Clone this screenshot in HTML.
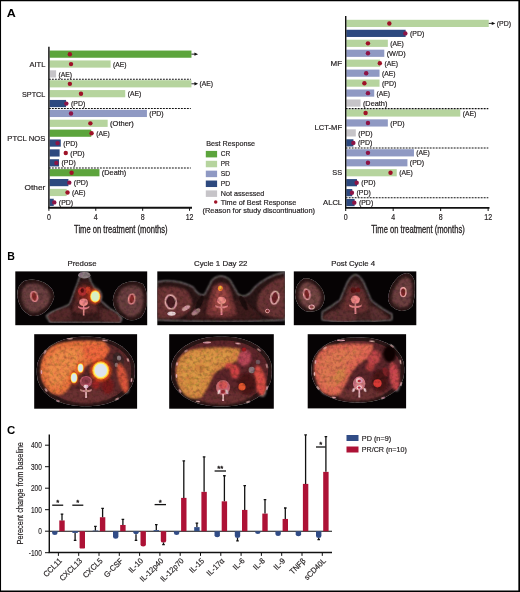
<!DOCTYPE html>
<html lang="en"><head><meta charset="utf-8"><title>Figure</title>
<style>
html,body{margin:0;padding:0;background:#fff;}
body{width:520px;height:592px;overflow:hidden;}
svg{display:block;font-family:"Liberation Sans",sans-serif;}
</style></head><body>
<svg width="520" height="592" viewBox="0 0 520 592">
<defs>
<filter id="b1" x="-30%" y="-30%" width="160%" height="160%"><feGaussianBlur stdDeviation="0.7"/></filter>
<filter id="b2" x="-30%" y="-30%" width="160%" height="160%"><feGaussianBlur stdDeviation="1.2"/></filter>
<filter id="b3" x="-30%" y="-30%" width="160%" height="160%"><feGaussianBlur stdDeviation="2"/></filter>
<filter id="b05" x="-30%" y="-30%" width="160%" height="160%"><feGaussianBlur stdDeviation="0.45"/></filter>
<filter id="tex" x="0" y="0" width="100%" height="100%" color-interpolation-filters="sRGB">
<feTurbulence type="fractalNoise" baseFrequency="0.3" numOctaves="2" seed="7" result="n"/>
<feColorMatrix in="n" type="matrix" values="0.6 0.1 0 0 0.6  0.45 0.35 0 0 0.52  0.6 0 0.1 0 0.58  0 0 0 0 1" result="g"/>
<feBlend in="SourceGraphic" in2="g" mode="multiply" result="m"/>
<feComposite in="m" in2="SourceGraphic" operator="in"/>
</filter>
</defs>
<rect x="0" y="0" width="520" height="592" fill="#fff"/>

<text transform="translate(6.80,16.50) scale(1.14,1)" font-size="11" font-weight="bold" fill="#000">A</text>
<rect x="49.65" y="50.55" width="141.81" height="7.2" fill="#5ca43c"/>
<path d="M191.46 54.15H195.46" stroke="#111" stroke-width="0.9" fill="none"/>
<path d="M194.46 52.45L198.06 54.15L194.46 55.85Z" fill="#111"/>
<circle cx="69.86" cy="54.20" r="2.2" fill="#9e1227"/>
<rect x="49.65" y="60.43" width="60.94" height="7.2" fill="#b6d49e"/>
<circle cx="71.03" cy="64.08" r="2.2" fill="#9e1227"/>
<text transform="translate(112.99,66.63)" font-size="7.8" textLength="13.5" lengthAdjust="spacingAndGlyphs" stroke="#231f20" stroke-width="0.2" fill="#231f20">(AE)</text>
<rect x="49.65" y="70.31" width="6.45" height="7.2" fill="#c6c4c8"/>
<text transform="translate(58.50,76.51)" font-size="7.8" textLength="13.5" lengthAdjust="spacingAndGlyphs" stroke="#231f20" stroke-width="0.2" fill="#231f20">(AE)</text>
<rect x="49.65" y="80.19" width="141.81" height="7.2" fill="#b6d49e"/>
<path d="M191.46 83.79H195.46" stroke="#111" stroke-width="0.9" fill="none"/>
<path d="M194.46 82.09L198.06 83.79L194.46 85.49Z" fill="#111"/>
<circle cx="69.86" cy="83.84" r="2.2" fill="#9e1227"/>
<text transform="translate(199.46,86.39)" font-size="7.8" textLength="13.5" lengthAdjust="spacingAndGlyphs" stroke="#231f20" stroke-width="0.2" fill="#231f20">(AE)</text>
<rect x="49.65" y="90.07" width="75.59" height="7.2" fill="#b6d49e"/>
<circle cx="80.99" cy="93.72" r="2.2" fill="#9e1227"/>
<text transform="translate(127.64,96.27)" font-size="7.8" textLength="13.5" lengthAdjust="spacingAndGlyphs" stroke="#231f20" stroke-width="0.2" fill="#231f20">(AE)</text>
<rect x="49.65" y="99.95" width="16.41" height="7.2" fill="#2d497f"/>
<circle cx="66.34" cy="103.60" r="2.2" fill="#8c1446"/>
<text transform="translate(70.94,106.15)" font-size="7.8" textLength="14.3" lengthAdjust="spacingAndGlyphs" stroke="#231f20" stroke-width="0.2" fill="#231f20">(PD)</text>
<rect x="49.65" y="109.83" width="97.28" height="7.2" fill="#8f99c3"/>
<circle cx="71.03" cy="113.48" r="2.2" fill="#8c1446"/>
<text transform="translate(149.33,116.03)" font-size="7.8" textLength="14.3" lengthAdjust="spacingAndGlyphs" stroke="#231f20" stroke-width="0.2" fill="#231f20">(PD)</text>
<rect x="49.65" y="119.71" width="58.01" height="7.2" fill="#b6d49e"/>
<circle cx="90.37" cy="123.36" r="2.2" fill="#9e1227"/>
<text transform="translate(110.06,125.91)" font-size="7.8" textLength="23.8" lengthAdjust="spacingAndGlyphs" stroke="#231f20" stroke-width="0.2" fill="#231f20">(Other)</text>
<rect x="49.65" y="129.59" width="41.61" height="7.2" fill="#5ca43c"/>
<circle cx="91.54" cy="133.24" r="2.2" fill="#9e1227"/>
<text transform="translate(96.14,135.79)" font-size="7.8" textLength="13.5" lengthAdjust="spacingAndGlyphs" stroke="#231f20" stroke-width="0.2" fill="#231f20">(AE)</text>
<rect x="49.65" y="139.47" width="11.13" height="7.2" fill="#2d497f"/>
<circle cx="57.55" cy="143.12" r="2.2" fill="#8c1446"/>
<text transform="translate(63.18,145.67)" font-size="7.8" textLength="14.3" lengthAdjust="spacingAndGlyphs" stroke="#231f20" stroke-width="0.2" fill="#231f20">(PD)</text>
<rect x="49.65" y="149.35" width="9.96" height="7.2" fill="#2d497f"/>
<circle cx="65.76" cy="153.00" r="2.2" fill="#9e1227"/>
<text transform="translate(70.36,155.55)" font-size="7.8" textLength="14.3" lengthAdjust="spacingAndGlyphs" stroke="#231f20" stroke-width="0.2" fill="#231f20">(PD)</text>
<rect x="49.65" y="159.23" width="9.38" height="7.2" fill="#2d497f"/>
<circle cx="56.38" cy="162.88" r="2.2" fill="#8c1446"/>
<text transform="translate(61.43,165.43)" font-size="7.8" textLength="14.3" lengthAdjust="spacingAndGlyphs" stroke="#231f20" stroke-width="0.2" fill="#231f20">(PD)</text>
<rect x="49.65" y="169.11" width="49.81" height="7.2" fill="#5ca43c"/>
<circle cx="71.62" cy="172.76" r="2.2" fill="#9e1227"/>
<text transform="translate(101.86,175.31) scale(0.94,1)" font-size="7.8" stroke="#231f20" stroke-width="0.2" fill="#231f20">(Death)</text>
<rect x="49.65" y="178.99" width="18.75" height="7.2" fill="#2d497f"/>
<circle cx="69.27" cy="182.64" r="2.2" fill="#8c1446"/>
<text transform="translate(73.87,185.19)" font-size="7.8" textLength="14.3" lengthAdjust="spacingAndGlyphs" stroke="#231f20" stroke-width="0.2" fill="#231f20">(PD)</text>
<rect x="49.65" y="188.87" width="16.99" height="7.2" fill="#b6d49e"/>
<circle cx="67.52" cy="192.52" r="2.2" fill="#9e1227"/>
<text transform="translate(72.12,195.07)" font-size="7.8" textLength="13.5" lengthAdjust="spacingAndGlyphs" stroke="#231f20" stroke-width="0.2" fill="#231f20">(AE)</text>
<rect x="49.65" y="198.75" width="4.10" height="7.2" fill="#2d497f"/>
<circle cx="54.27" cy="202.40" r="2.2" fill="#8c1446"/>
<text transform="translate(58.87,204.95)" font-size="7.8" textLength="14.3" lengthAdjust="spacingAndGlyphs" stroke="#231f20" stroke-width="0.2" fill="#231f20">(PD)</text>
<path d="M48.90 79.30H190.80" stroke="#111" stroke-width="1.05" stroke-dasharray="1.9 1.1" fill="none"/>
<path d="M48.90 108.40H190.80" stroke="#111" stroke-width="1.05" stroke-dasharray="1.9 1.1" fill="none"/>
<path d="M48.90 168.00H190.80" stroke="#111" stroke-width="1.05" stroke-dasharray="1.9 1.1" fill="none"/>
<path d="M48.90 46.75V207.70" stroke="#111" stroke-width="1.45" fill="none"/>
<path d="M48.20 207.70H192.00" stroke="#111" stroke-width="1.9" fill="none"/>
<path d="M48.90 207.70V210.80" stroke="#111" stroke-width="1" fill="none"/>
<text transform="translate(48.90,220.10) scale(0.8,1)" font-size="8.8" text-anchor="middle" stroke="#231f20" stroke-width="0.2" fill="#231f20">0</text>
<path d="M95.78 207.70V210.80" stroke="#111" stroke-width="1" fill="none"/>
<text transform="translate(95.78,220.10) scale(0.8,1)" font-size="8.8" text-anchor="middle" stroke="#231f20" stroke-width="0.2" fill="#231f20">4</text>
<path d="M142.66 207.70V210.80" stroke="#111" stroke-width="1" fill="none"/>
<text transform="translate(142.66,220.10) scale(0.8,1)" font-size="8.8" text-anchor="middle" stroke="#231f20" stroke-width="0.2" fill="#231f20">8</text>
<path d="M189.54 207.70V210.80" stroke="#111" stroke-width="1" fill="none"/>
<text transform="translate(189.54,220.10) scale(0.8,1)" font-size="8.8" text-anchor="middle" stroke="#231f20" stroke-width="0.2" fill="#231f20">12</text>
<text transform="translate(45.30,67.30)" font-size="7.8" text-anchor="end" textLength="15.8" lengthAdjust="spacingAndGlyphs" stroke="#231f20" stroke-width="0.2" fill="#231f20">AITL</text>
<text transform="translate(45.30,96.80)" font-size="7.8" text-anchor="end" textLength="23.3" lengthAdjust="spacingAndGlyphs" stroke="#231f20" stroke-width="0.2" fill="#231f20">SPTCL</text>
<text transform="translate(45.30,141.00)" font-size="7.8" text-anchor="end" textLength="38.0" lengthAdjust="spacingAndGlyphs" stroke="#231f20" stroke-width="0.2" fill="#231f20">PTCL NOS</text>
<text transform="translate(45.30,190.10)" font-size="7.8" text-anchor="end" textLength="20.7" lengthAdjust="spacingAndGlyphs" stroke="#231f20" stroke-width="0.2" fill="#231f20">Other</text>
<text transform="translate(120.80,232.80)" font-size="10.2" text-anchor="middle" textLength="93.5" lengthAdjust="spacingAndGlyphs" stroke="#231f20" stroke-width="0.3" fill="#231f20">Time on treatment (months)</text>
<text transform="translate(206.20,145.80)" font-size="7.8" textLength="48.8" lengthAdjust="spacingAndGlyphs" stroke="#231f20" stroke-width="0.2" fill="#231f20">Best Response</text>
<rect x="205.8" y="150.90" width="11.3" height="6.5" fill="#5ca43c"/>
<text transform="translate(220.80,156.30)" font-size="7.8" textLength="9.5" lengthAdjust="spacingAndGlyphs" stroke="#231f20" stroke-width="0.2" fill="#231f20">CR</text>
<rect x="205.8" y="160.78" width="11.3" height="6.5" fill="#b6d49e"/>
<text transform="translate(220.80,166.18)" font-size="7.8" textLength="9.0" lengthAdjust="spacingAndGlyphs" stroke="#231f20" stroke-width="0.2" fill="#231f20">PR</text>
<rect x="205.8" y="170.65" width="11.3" height="6.5" fill="#8f99c3"/>
<text transform="translate(220.80,176.05)" font-size="7.8" textLength="9.4" lengthAdjust="spacingAndGlyphs" stroke="#231f20" stroke-width="0.2" fill="#231f20">SD</text>
<rect x="205.8" y="180.53" width="11.3" height="6.5" fill="#2d497f"/>
<text transform="translate(220.80,185.93)" font-size="7.8" textLength="9.4" lengthAdjust="spacingAndGlyphs" stroke="#231f20" stroke-width="0.2" fill="#231f20">PD</text>
<rect x="205.8" y="190.40" width="11.3" height="6.5" fill="#c6c4c8"/>
<text transform="translate(220.80,195.80)" font-size="7.8" textLength="43.5" lengthAdjust="spacingAndGlyphs" stroke="#231f20" stroke-width="0.2" fill="#231f20">Not assessed</text>
<circle cx="215.7" cy="202" r="1.75" fill="#9e1227"/>
<text transform="translate(220.80,204.60)" font-size="7.8" textLength="75.4" lengthAdjust="spacingAndGlyphs" stroke="#231f20" stroke-width="0.2" fill="#231f20">Time of Best Response</text>
<text transform="translate(202.50,212.60)" font-size="7.8" textLength="112.5" lengthAdjust="spacingAndGlyphs" stroke="#231f20" stroke-width="0.2" fill="#231f20">(Reason for study discontinuation)</text>
<rect x="346.30" y="19.80" width="142.44" height="7.2" fill="#b6d49e"/>
<path d="M488.74 23.40H492.74" stroke="#111" stroke-width="0.9" fill="none"/>
<path d="M491.74 21.70L495.34 23.40L491.74 25.10Z" fill="#111"/>
<circle cx="389.33" cy="23.45" r="2.2" fill="#9e1227"/>
<text transform="translate(496.74,26.00)" font-size="7.8" textLength="14.3" lengthAdjust="spacingAndGlyphs" stroke="#231f20" stroke-width="0.2" fill="#231f20">(PD)</text>
<rect x="346.30" y="29.76" width="59.35" height="7.2" fill="#2d497f"/>
<circle cx="405.35" cy="33.41" r="2.2" fill="#8c1446"/>
<text transform="translate(409.95,35.96)" font-size="7.8" textLength="14.3" lengthAdjust="spacingAndGlyphs" stroke="#231f20" stroke-width="0.2" fill="#231f20">(PD)</text>
<rect x="346.30" y="39.71" width="41.54" height="7.2" fill="#b6d49e"/>
<circle cx="367.96" cy="43.36" r="2.2" fill="#9e1227"/>
<text transform="translate(390.25,45.91)" font-size="7.8" textLength="13.5" lengthAdjust="spacingAndGlyphs" stroke="#231f20" stroke-width="0.2" fill="#231f20">(AE)</text>
<rect x="346.30" y="49.67" width="37.98" height="7.2" fill="#8f99c3"/>
<circle cx="367.96" cy="53.32" r="2.2" fill="#8c1446"/>
<text transform="translate(386.68,55.87) scale(0.94,1)" font-size="7.8" stroke="#231f20" stroke-width="0.2" fill="#231f20">(W/D)</text>
<rect x="346.30" y="59.62" width="33.83" height="7.2" fill="#b6d49e"/>
<circle cx="379.83" cy="63.27" r="2.2" fill="#9e1227"/>
<text transform="translate(384.43,65.82)" font-size="7.8" textLength="13.5" lengthAdjust="spacingAndGlyphs" stroke="#231f20" stroke-width="0.2" fill="#231f20">(AE)</text>
<rect x="346.30" y="69.58" width="33.24" height="7.2" fill="#8f99c3"/>
<circle cx="366.18" cy="73.23" r="2.2" fill="#8c1446"/>
<text transform="translate(381.94,75.78)" font-size="7.8" textLength="13.5" lengthAdjust="spacingAndGlyphs" stroke="#231f20" stroke-width="0.2" fill="#231f20">(AE)</text>
<rect x="346.30" y="79.53" width="33.24" height="7.2" fill="#b6d49e"/>
<circle cx="364.40" cy="83.18" r="2.2" fill="#9e1227"/>
<text transform="translate(381.94,85.73)" font-size="7.8" textLength="14.3" lengthAdjust="spacingAndGlyphs" stroke="#231f20" stroke-width="0.2" fill="#231f20">(PD)</text>
<rect x="346.30" y="89.48" width="27.89" height="7.2" fill="#8f99c3"/>
<circle cx="367.96" cy="93.14" r="2.2" fill="#8c1446"/>
<text transform="translate(376.59,95.69)" font-size="7.8" textLength="13.5" lengthAdjust="spacingAndGlyphs" stroke="#231f20" stroke-width="0.2" fill="#231f20">(AE)</text>
<rect x="346.30" y="99.44" width="14.24" height="7.2" fill="#c6c4c8"/>
<text transform="translate(362.94,105.64) scale(0.94,1)" font-size="7.8" stroke="#231f20" stroke-width="0.2" fill="#231f20">(Death)</text>
<rect x="346.30" y="109.39" width="113.95" height="7.2" fill="#b6d49e"/>
<circle cx="365.59" cy="113.05" r="2.2" fill="#9e1227"/>
<text transform="translate(462.65,115.59)" font-size="7.8" textLength="13.5" lengthAdjust="spacingAndGlyphs" stroke="#231f20" stroke-width="0.2" fill="#231f20">(AE)</text>
<rect x="346.30" y="119.35" width="41.54" height="7.2" fill="#8f99c3"/>
<circle cx="367.96" cy="123.00" r="2.2" fill="#8c1446"/>
<text transform="translate(390.25,125.55)" font-size="7.8" textLength="14.3" lengthAdjust="spacingAndGlyphs" stroke="#231f20" stroke-width="0.2" fill="#231f20">(PD)</text>
<rect x="346.30" y="129.31" width="9.50" height="7.2" fill="#c6c4c8"/>
<text transform="translate(358.20,135.50)" font-size="7.8" textLength="14.3" lengthAdjust="spacingAndGlyphs" stroke="#231f20" stroke-width="0.2" fill="#231f20">(PD)</text>
<rect x="346.30" y="139.26" width="7.12" height="7.2" fill="#2d497f"/>
<circle cx="353.36" cy="142.91" r="2.2" fill="#8c1446"/>
<text transform="translate(357.96,145.46)" font-size="7.8" textLength="14.3" lengthAdjust="spacingAndGlyphs" stroke="#231f20" stroke-width="0.2" fill="#231f20">(PD)</text>
<rect x="346.30" y="149.22" width="67.66" height="7.2" fill="#8f99c3"/>
<circle cx="367.96" cy="152.87" r="2.2" fill="#8c1446"/>
<text transform="translate(416.36,155.41)" font-size="7.8" textLength="13.5" lengthAdjust="spacingAndGlyphs" stroke="#231f20" stroke-width="0.2" fill="#231f20">(AE)</text>
<rect x="346.30" y="159.17" width="61.13" height="7.2" fill="#8f99c3"/>
<circle cx="367.96" cy="162.82" r="2.2" fill="#8c1446"/>
<text transform="translate(409.83,165.37)" font-size="7.8" textLength="14.3" lengthAdjust="spacingAndGlyphs" stroke="#231f20" stroke-width="0.2" fill="#231f20">(PD)</text>
<rect x="346.30" y="169.12" width="50.45" height="7.2" fill="#b6d49e"/>
<circle cx="390.51" cy="172.78" r="2.2" fill="#9e1227"/>
<text transform="translate(399.15,175.32)" font-size="7.8" textLength="13.5" lengthAdjust="spacingAndGlyphs" stroke="#231f20" stroke-width="0.2" fill="#231f20">(AE)</text>
<rect x="346.30" y="179.08" width="10.68" height="7.2" fill="#2d497f"/>
<circle cx="356.68" cy="182.73" r="2.2" fill="#8c1446"/>
<text transform="translate(361.28,185.28)" font-size="7.8" textLength="14.3" lengthAdjust="spacingAndGlyphs" stroke="#231f20" stroke-width="0.2" fill="#231f20">(PD)</text>
<rect x="346.30" y="189.04" width="5.93" height="7.2" fill="#2d497f"/>
<circle cx="351.94" cy="192.69" r="2.2" fill="#8c1446"/>
<text transform="translate(356.53,195.24)" font-size="7.8" textLength="14.3" lengthAdjust="spacingAndGlyphs" stroke="#231f20" stroke-width="0.2" fill="#231f20">(PD)</text>
<rect x="346.30" y="198.99" width="8.31" height="7.2" fill="#2d497f"/>
<circle cx="354.31" cy="202.64" r="2.2" fill="#8c1446"/>
<text transform="translate(358.91,205.19)" font-size="7.8" textLength="14.3" lengthAdjust="spacingAndGlyphs" stroke="#231f20" stroke-width="0.2" fill="#231f20">(PD)</text>
<path d="M345.70 108.60H488.30" stroke="#111" stroke-width="1.05" stroke-dasharray="1.9 1.1" fill="none"/>
<path d="M345.70 148.00H488.30" stroke="#111" stroke-width="1.05" stroke-dasharray="1.9 1.1" fill="none"/>
<path d="M345.70 197.80H488.30" stroke="#111" stroke-width="1.05" stroke-dasharray="1.9 1.1" fill="none"/>
<path d="M345.70 16.00V207.90" stroke="#111" stroke-width="1.45" fill="none"/>
<path d="M345.00 207.90H489.50" stroke="#111" stroke-width="1.9" fill="none"/>
<path d="M345.70 207.90V211.00" stroke="#111" stroke-width="1" fill="none"/>
<text transform="translate(345.70,220.30) scale(0.8,1)" font-size="8.8" text-anchor="middle" stroke="#231f20" stroke-width="0.2" fill="#231f20">0</text>
<path d="M393.18 207.90V211.00" stroke="#111" stroke-width="1" fill="none"/>
<text transform="translate(393.18,220.30) scale(0.8,1)" font-size="8.8" text-anchor="middle" stroke="#231f20" stroke-width="0.2" fill="#231f20">4</text>
<path d="M440.66 207.90V211.00" stroke="#111" stroke-width="1" fill="none"/>
<text transform="translate(440.66,220.30) scale(0.8,1)" font-size="8.8" text-anchor="middle" stroke="#231f20" stroke-width="0.2" fill="#231f20">8</text>
<path d="M488.14 207.90V211.00" stroke="#111" stroke-width="1" fill="none"/>
<text transform="translate(488.14,220.30) scale(0.8,1)" font-size="8.8" text-anchor="middle" stroke="#231f20" stroke-width="0.2" fill="#231f20">12</text>
<text transform="translate(342.10,66.00)" font-size="7.8" text-anchor="end" textLength="11.5" lengthAdjust="spacingAndGlyphs" stroke="#231f20" stroke-width="0.2" fill="#231f20">MF</text>
<text transform="translate(342.10,130.40)" font-size="7.8" text-anchor="end" textLength="27.5" lengthAdjust="spacingAndGlyphs" stroke="#231f20" stroke-width="0.2" fill="#231f20">LCT-MF</text>
<text transform="translate(342.10,175.40) scale(0.94,1)" font-size="7.8" text-anchor="end" stroke="#231f20" stroke-width="0.2" fill="#231f20">SS</text>
<text transform="translate(342.10,205.00)" font-size="7.8" text-anchor="end" textLength="19" lengthAdjust="spacingAndGlyphs" stroke="#231f20" stroke-width="0.2" fill="#231f20">ALCL</text>
<text transform="translate(418.00,233.00)" font-size="10.2" text-anchor="middle" textLength="93.5" lengthAdjust="spacingAndGlyphs" stroke="#231f20" stroke-width="0.3" fill="#231f20">Time on treatment (months)</text>
<text transform="translate(7.20,260.00) scale(0.98,1)" font-size="10.8" font-weight="bold" fill="#000">B</text>
<text transform="translate(82.00,265.80)" font-size="7.8" text-anchor="middle" textLength="29" lengthAdjust="spacingAndGlyphs" stroke="#231f20" stroke-width="0.2" fill="#231f20">Predose</text>
<text transform="translate(220.70,265.80)" font-size="7.8" text-anchor="middle" textLength="53.5" lengthAdjust="spacingAndGlyphs" stroke="#231f20" stroke-width="0.2" fill="#231f20">Cycle 1 Day 22</text>
<text transform="translate(353.10,265.80)" font-size="7.8" text-anchor="middle" textLength="43.75" lengthAdjust="spacingAndGlyphs" stroke="#231f20" stroke-width="0.2" fill="#231f20">Post Cycle 4</text>
<clipPath id="pc1"><rect x="15.3" y="271.4" width="131.9" height="53.8"/></clipPath>
<rect x="15.3" y="271.4" width="131.9" height="53.8" fill="#060304"/>
<g clip-path="url(#pc1)" filter="url(#tex)">
<path d="M50 321.5 L50 314 Q60 309 70 304 L78 282 Q80 273 84.5 272.5 Q89 273 91 282 L100 300 Q108 308 118 314 L118 321.5 Q84 323.5 50 321.5Z" fill="#2c1717" filter="url(#b2)"/>
<path d="M52 320.5 Q56 313 68 310 L76 290 Q80 279 84.5 279 Q89 279 93 290 L102 308 Q112 313 116 320.5 Q84 322 52 320.5Z" fill="#3a1e1e" filter="url(#b2)"/>
<path d="M72 311 Q77 298 79 288 Q84 282 90 288 Q93 298 98 311 Q85 316 72 311Z" fill="#5e2a2a" filter="url(#b2)"/>
<ellipse cx="84.3" cy="275.2" rx="6" ry="3.3" fill="#8f8286" filter="url(#b1)"/>
<path d="M17.3 296 Q16.8 285 24 281 Q33 277.3 44 282.5 Q54.5 288 54.2 297 Q52 306 45 312 Q38 317.5 30 315.5 Q19 310 17.3 296Z" fill="#2a1516" filter="url(#b1)"/>
<path d="M21.5 296 Q21 287.5 27 284.5 Q34 282 42.5 286 Q50.5 291 50.3 297.5 Q48 305 42 309.5 Q36.5 313.5 30.5 312 Q22.5 307.5 21.5 296Z" fill="#694140" filter="url(#b2)"/>
<ellipse cx="44" cy="303" rx="5" ry="3.4" fill="#7a4a48" filter="url(#b2)" transform="rotate(-30 44 303)" opacity="0.7"/>
<ellipse cx="34.2" cy="296.5" rx="3.3" ry="4.9" fill="#8a2a2c" stroke="#ee9494" stroke-width="1.5" filter="url(#b05)" transform="rotate(-12 34.2 296.5)"/>
<path d="M46 316 Q58 307 70 308 L72 320 L50 322Z" fill="#552c2c" filter="url(#b2)"/>
<path d="M112.8 300 Q114 289 122 284 Q133 278.5 143 284 Q147.5 290 146.8 302 Q146 312 141 317.5 Q133 322 126 319 Q113 312 112.8 300Z" fill="#2a1516" filter="url(#b1)"/>
<path d="M117 300 Q118 291 124.5 287.5 Q133 283.5 140 287.5 Q144 293 143.3 302 Q142.5 310 138.5 314.5 Q132.5 318 127.5 316 Q117.5 310 117 300Z" fill="#694140" filter="url(#b2)"/>
<ellipse cx="131.7" cy="299" rx="3.1" ry="5.0" fill="#8a2a2c" stroke="#ee9494" stroke-width="1.5" filter="url(#b05)" transform="rotate(8 131.7 299)"/>
<path d="M100 309 Q112 308 122 318 L120 323 L100 321Z" fill="#552c2c" filter="url(#b2)"/>
<ellipse cx="87" cy="293.5" rx="11" ry="8" fill="#9a2818" filter="url(#b3)" opacity="0.55"/>
<ellipse cx="82.3" cy="291.5" rx="4.2" ry="4.2" fill="#b83030" filter="url(#b1)"/>
<ellipse cx="82.3" cy="290.5" rx="1.6" ry="2.2" fill="#5a1010" filter="url(#b05)"/>
<ellipse cx="88" cy="290" rx="2.5" ry="3.5" fill="#c83c28" filter="url(#b1)"/>
<ellipse cx="83.6" cy="302.3" rx="4.4" ry="3.8" fill="#f08a88" filter="url(#b1)"/>
<path d="M83 305 L84.4 305 L84.6 315.5 L82.8 315.5Z" fill="#e89090" filter="url(#b05)"/>
<path d="M78 306 Q83.6 309 89.5 306 L89 308 Q83.6 311 78.5 308Z" fill="#e08484" filter="url(#b05)"/>
<ellipse cx="95.2" cy="296.4" rx="6.449999999999999" ry="7.800000000000001" fill="#e04a1c" filter="url(#b2)" opacity="0.85"/>
</g>
<g clip-path="url(#pc1)">
<ellipse cx="95.2" cy="296.4" rx="5.159999999999999" ry="6.24" fill="#ffa820" filter="url(#b1)"/>
<ellipse cx="95.2" cy="296.4" rx="4.4719999999999995" ry="5.408" fill="#fff070" filter="url(#b05)"/>
<ellipse cx="95.2" cy="296.4" rx="3.698" ry="4.472" fill="#d6efc4" filter="url(#b05)"/>
</g>
<clipPath id="pc2"><rect x="157.3" y="271.4" width="127.6" height="53.8"/></clipPath>
<rect x="157.3" y="271.4" width="127.6" height="53.8" fill="#060304"/>
<g clip-path="url(#pc2)" filter="url(#tex)">
<path d="M157 320 L157 282 Q175 278 193 287 Q200 298 205 294 L212 280 Q221 272 230 280 L238 294 Q246 300 254 288 Q266 276 285 272 L285 320 Q221 323 157 320Z" fill="#2c1717" filter="url(#b2)"/>
<path d="M186 318 Q196 300 206 300 L238 300 Q248 302 262 318 Q222 322 186 318Z" fill="#3c1e1e" filter="url(#b2)"/>
<path d="M157 288 Q172 284 186 290 Q194 298 192 308 Q186 318 170 319 L157 318Z" fill="#6c3636" filter="url(#b2)"/>
<path d="M285 277 Q272 279 262 290 Q254 300 258 310 Q266 319 285 318Z" fill="#683434" filter="url(#b2)"/>
<path d="M206 315 Q209 296 213 286 Q221 279 229 286 Q233 296 237 315 Q221 320 206 315Z" fill="#743434" filter="url(#b2)"/>
<path d="M212 310 Q214 296 217 290 Q221 286 225 290 Q228 296 231 310 Q221 314 212 310Z" fill="#a04a44" filter="url(#b2)" opacity="0.8"/>
<ellipse cx="199.5" cy="303" rx="2.6" ry="8" fill="#1e0c0e" filter="url(#b1)" transform="rotate(25 199.5 303)"/>
<ellipse cx="243.5" cy="303" rx="2.6" ry="8" fill="#1e0c0e" filter="url(#b1)" transform="rotate(-25 243.5 303)"/>
<ellipse cx="196" cy="312" rx="5" ry="2.4" fill="#d8a8b0" filter="url(#b1)" transform="rotate(-35 196 312)" opacity="0.7"/>
<ellipse cx="170.8" cy="302" rx="5.4" ry="7.0" fill="#4a1c20" stroke="#ecb4b4" stroke-width="1.6" filter="url(#b05)" transform="rotate(-10 170.8 302)"/>
<ellipse cx="171.5" cy="313.6" rx="4.2" ry="2.2" fill="#e6d6d6" filter="url(#b05)"/>
<ellipse cx="186" cy="308" rx="4.5" ry="2.0" fill="#d8a8a8" filter="url(#b1)" transform="rotate(-30 186 308)"/>
<ellipse cx="274.8" cy="297.6" rx="4.0" ry="6.4" fill="#6a2226" stroke="#f0b8b8" stroke-width="1.6" filter="url(#b05)" transform="rotate(10 274.8 297.6)"/>
<ellipse cx="267.4" cy="311" rx="2" ry="1.7" fill="#7a2a2a" stroke="#e8a8a8" stroke-width="1.0" filter="url(#b05)"/>
<ellipse cx="220.3" cy="288.2" rx="2.4" ry="2.8" fill="#ff8a30" filter="url(#b1)"/>
<ellipse cx="220.3" cy="287.6" rx="1.0" ry="1.5" fill="#ffd050" filter="url(#b05)"/>
<ellipse cx="221.5" cy="300.5" rx="4.4" ry="3.8" fill="#f09088" filter="url(#b1)"/>
<path d="M220.7 304 L222.3 304 L222.5 315 L220.5 315Z" fill="#e89090" filter="url(#b05)"/>
<path d="M215 305 Q221.5 308 228 305 L227.5 307 Q221.5 310 215.5 307Z" fill="#e08484" filter="url(#b05)"/>
</g>
<clipPath id="pc3"><rect x="293.8" y="271.4" width="122.5" height="53.8"/></clipPath>
<rect x="293.8" y="271.4" width="122.5" height="53.8" fill="#060304"/>
<g clip-path="url(#pc3)" filter="url(#tex)">
<path d="M322 320 L322 312 Q332 306 340 300 L347 283 Q351 275 355.5 274.5 Q360 275 364 283 L371 300 Q380 308 392 314 L392 320 Q357 322 322 320Z" fill="#2c1717" filter="url(#b2)"/>
<path d="M324 319 Q328 311 338 308 L346 291 Q351 281 355.5 281 Q360 281 365 291 L372 306 Q384 312 390 319 Q357 321 324 319Z" fill="#4a2626" filter="url(#b2)"/>
<path d="M341 310 Q346 298 349 289 Q355.4 283 362 289 Q365 298 369 310 Q355 316 341 310Z" fill="#6a3030" filter="url(#b2)"/>
<path d="M295 295 Q295.5 283 304 278.3 Q312 277.5 318 284 Q325 291 324.5 299 Q323.5 306 319 309.5 Q312 313 305 311 Q296 306 295 295Z" fill="#2a1516" filter="url(#b1)"/>
<path d="M298.5 295 Q299 286 305 282 Q311 281.5 316 286.5 Q321.5 292.5 321 299 Q320 304.5 316.5 307 Q311 309.5 306 308 Q299.5 303.5 298.5 295Z" fill="#714442" filter="url(#b2)"/>
<ellipse cx="306.8" cy="294.2" rx="3.2" ry="5.2" fill="#7a2528" stroke="#f0a8a8" stroke-width="1.5" filter="url(#b05)" transform="rotate(-10 306.8 294.2)"/>
<ellipse cx="311.6" cy="307" rx="2.6" ry="2.0" fill="#a05050" stroke="#f0b8b8" stroke-width="1.2" filter="url(#b05)"/>
<path d="M322 318 Q334 306 356 312 L356 320 Q338 324 322 318Z" fill="#5e3232" filter="url(#b2)"/>
<path d="M388 299 Q389 287 395 280.5 Q400 273.5 407 273 Q414 274 414.8 284 Q415.5 296 412.5 306 Q408 311.5 400 310.8 Q389 308 388 299Z" fill="#2a1516" filter="url(#b1)"/>
<path d="M391.5 299 Q392.5 289 397.5 283.5 Q401.5 277.5 406.5 277 Q411.5 278 412 285.5 Q412.5 296 410 304 Q406.5 308 400.5 307.5 Q392.5 305.5 391.5 299Z" fill="#6c4040" filter="url(#b2)"/>
<ellipse cx="403.2" cy="292.2" rx="2.8" ry="4.4" fill="#7a2528" stroke="#f0a8a8" stroke-width="1.4" filter="url(#b05)"/>
<path d="M370 306 Q380 308 388 318 L372 321Z" fill="#5a3030" filter="url(#b2)"/>
<ellipse cx="353.4" cy="290.2" rx="2.6" ry="2.6" fill="#5a1214" filter="url(#b05)"/>
<ellipse cx="358" cy="290" rx="2.2" ry="2.6" fill="#6a1416" filter="url(#b05)"/>
<ellipse cx="355.4" cy="299.6" rx="4.6" ry="4" fill="#f08a88" filter="url(#b1)"/>
<path d="M354.6 303 L356.2 303 L356.4 314 L354.4 314Z" fill="#e89090" filter="url(#b05)"/>
<path d="M349 304.5 Q355.4 307.5 362 304.5 L361.5 306.5 Q355.4 309.5 349.5 306.5Z" fill="#e08484" filter="url(#b05)"/>
</g>
<clipPath id="pc4"><rect x="34.2" y="334.2" width="102.9" height="74.5"/></clipPath>
<rect x="34.2" y="334.2" width="102.9" height="74.5" fill="#060304"/>
<g clip-path="url(#pc4)" filter="url(#tex)">
<rect x="36.8" y="336.8" width="98" height="69.4" rx="45" ry="32" fill="#2c1516" filter="url(#b1)"/>
<rect x="40.4" y="340.4" width="90.8" height="61.8" rx="42" ry="28.5" fill="#5c2a2c" filter="url(#b1)"/>
<path d="M55 392 Q86 386 118 392 Q108 403 86 403.5 Q64 403 55 392Z" fill="#6a3030" filter="url(#b2)"/>
<path d="M40.5 372 Q40 352 56 344 Q76 338.5 104 341.5 Q110 346 104 356 Q92 362 84 368 Q74 380 66 392 Q58 398 50 392 Q41 384 40.5 372Z" fill="#e6743c" filter="url(#b2)"/>
<path d="M46 372 Q46 356 58 350 Q72 346 84 350 Q80 362 72 372 Q64 386 56 388 Q47 384 46 372Z" fill="#f0964e" filter="url(#b3)" opacity="0.7"/>
<path d="M84 346 Q100 342 110 348 Q108 358 98 362 Q90 362 84 356Z" fill="#ee6a3e" filter="url(#b2)"/>
<ellipse cx="118.5" cy="361" rx="5.5" ry="9" fill="#3c2626" filter="url(#b1)" transform="rotate(-15 118.5 361)"/>
<ellipse cx="119" cy="358" rx="2.2" ry="2.5" fill="#8a7a7c" filter="url(#b05)"/>
<ellipse cx="116.5" cy="365" rx="1.8" ry="2.2" fill="#7a6a6c" filter="url(#b05)"/>
<ellipse cx="122.8" cy="378" rx="4.6" ry="15.5" fill="#d8583a" filter="url(#b2)" transform="rotate(-14 122.8 378)"/>
<ellipse cx="107.5" cy="386" rx="6" ry="8" fill="#7a1c1c" filter="url(#b2)"/>
<ellipse cx="96" cy="384" rx="4" ry="5" fill="#a02626" filter="url(#b2)"/>
<ellipse cx="45" cy="352" rx="0.9" ry="2.2" fill="#e8b0b0" filter="url(#b05)" transform="rotate(30 45 352)"/>
<ellipse cx="41.5" cy="372" rx="0.8" ry="2" fill="#e8b0b0" filter="url(#b05)"/>
<ellipse cx="46" cy="390" rx="0.9" ry="2" fill="#e8b0b0" filter="url(#b05)" transform="rotate(-35 46 390)"/>
<ellipse cx="58" cy="401" rx="2" ry="0.8" fill="#e8b0b0" filter="url(#b05)" transform="rotate(20 58 401)"/>
<ellipse cx="70" cy="338.8" rx="3" ry="0.8" fill="#d8a8a8" filter="url(#b05)"/>
<ellipse cx="105" cy="340.5" rx="3" ry="0.8" fill="#d8a8a8" filter="url(#b05)" transform="rotate(8 105 340.5)"/>
<ellipse cx="128" cy="360" rx="0.8" ry="2" fill="#e8b0b0" filter="url(#b05)" transform="rotate(-20 128 360)"/>
<ellipse cx="131.5" cy="380" rx="0.8" ry="2.2" fill="#e8b0b0" filter="url(#b05)" transform="rotate(10 131.5 380)"/>
<ellipse cx="117" cy="399" rx="2.4" ry="0.8" fill="#e8b0b0" filter="url(#b05)" transform="rotate(-25 117 399)"/>
<ellipse cx="86" cy="381.5" rx="6.2" ry="5.6" fill="#b85a68" filter="url(#b1)"/>
<ellipse cx="86" cy="380.5" rx="4.2" ry="3.6" fill="#8c3a4a" filter="url(#b05)"/>
<ellipse cx="86" cy="386.6" rx="2.6" ry="1.8" fill="#f0d8dc" filter="url(#b05)"/>
<path d="M85.3 388 L86.9 388 L87.1 398 L85.1 398Z" fill="#e8b8bc" filter="url(#b05)"/>
<path d="M80 389 Q86 391.5 92 389 L91.6 391 Q86 393.5 80.4 391Z" fill="#d89098" filter="url(#b05)"/>
<ellipse cx="80.5" cy="368" rx="3.9000000000000004" ry="6.0" fill="#e04a1c" filter="url(#b2)" opacity="0.85"/>
<ellipse cx="74" cy="377.8" rx="4.5" ry="6.8999999999999995" fill="#e04a1c" filter="url(#b2)" opacity="0.85"/>
<ellipse cx="100.8" cy="370.4" rx="10.8" ry="11.399999999999999" fill="#e04a1c" filter="url(#b2)" opacity="0.85"/>
</g>
<g clip-path="url(#pc4)">
<ellipse cx="80.5" cy="368" rx="3.12" ry="4.8" fill="#ffa820" filter="url(#b1)"/>
<ellipse cx="80.5" cy="368" rx="2.704" ry="4.16" fill="#fff070" filter="url(#b05)"/>
<ellipse cx="80.5" cy="368" rx="2.236" ry="3.44" fill="#d8e8f0" filter="url(#b05)"/>
<ellipse cx="74" cy="377.8" rx="3.5999999999999996" ry="5.52" fill="#ffa820" filter="url(#b1)"/>
<ellipse cx="74" cy="377.8" rx="3.12" ry="4.784" fill="#fff070" filter="url(#b05)"/>
<ellipse cx="74" cy="377.8" rx="2.58" ry="3.9559999999999995" fill="#d8e8f0" filter="url(#b05)"/>
<ellipse cx="100.8" cy="370.4" rx="8.64" ry="9.12" fill="#ffa820" filter="url(#b1)"/>
<ellipse cx="100.8" cy="370.4" rx="7.488" ry="7.904" fill="#fff070" filter="url(#b05)"/>
<ellipse cx="100.8" cy="370.4" rx="6.192" ry="6.536" fill="#dde4f0" filter="url(#b05)"/>
</g>
<clipPath id="pc5"><rect x="169.2" y="334.2" width="104.6" height="74.5"/></clipPath>
<rect x="169.2" y="334.2" width="104.6" height="74.5" fill="#060304"/>
<g clip-path="url(#pc5)" filter="url(#tex)">
<rect x="171" y="336.8" width="100.8" height="69.6" rx="46" ry="32" fill="#2c1516" filter="url(#b1)"/>
<rect x="174.8" y="340.6" width="93.2" height="61.8" rx="43" ry="28.5" fill="#5c282a" filter="url(#b1)"/>
<path d="M190 394 Q222 388 254 394 Q244 404 222 404.5 Q200 404 190 394Z" fill="#6a3030" filter="url(#b2)"/>
<path d="M176 374 Q175.5 356 190 350 Q212 345.5 240 348.5 Q242 356 236 362 Q224 366 214 374 Q208 388 202 397 Q194 401 186 396 Q177 388 176 374Z" fill="#d48a42" filter="url(#b2)"/>
<path d="M181 374 Q181 360 192 354 Q210 350 232 352 Q228 360 216 364 Q208 372 204 384 Q198 394 190 392 Q182 386 181 374Z" fill="#dea448" filter="url(#b3)" opacity="0.6"/>
<ellipse cx="200" cy="368" rx="6" ry="4" fill="#c87838" filter="url(#b2)" opacity="0.6"/>
<ellipse cx="190" cy="380" rx="4" ry="5" fill="#cc8038" filter="url(#b2)" opacity="0.5"/>
<ellipse cx="244.6" cy="358" rx="6.5" ry="8" fill="#b84858" filter="url(#b2)" transform="rotate(20 244.6 358)"/>
<ellipse cx="244" cy="349.5" rx="2.2" ry="2" fill="#a01c20" filter="url(#b05)"/>
<ellipse cx="235" cy="371.5" rx="4.6" ry="7" fill="#d04444" filter="url(#b2)"/>
<ellipse cx="229" cy="366" rx="4" ry="3" fill="#c84840" filter="url(#b2)"/>
<ellipse cx="260" cy="381" rx="5.6" ry="15.5" fill="#d85044" filter="url(#b2)" transform="rotate(-10 260 381)"/>
<ellipse cx="247" cy="384" rx="9" ry="11" fill="#4a1416" filter="url(#b2)"/>
<ellipse cx="242" cy="386.8" rx="3.6" ry="3.8" fill="#e0582e" filter="url(#b1)"/>
<ellipse cx="251.6" cy="370" rx="3" ry="3.2" fill="#8c7a7c" filter="url(#b1)"/>
<ellipse cx="258" cy="362" rx="2.4" ry="2.2" fill="#70585c" filter="url(#b1)"/>
<ellipse cx="186" cy="351" rx="2" ry="0.8" fill="#e8b0b0" filter="url(#b05)" transform="rotate(-30 186 351)"/>
<ellipse cx="177" cy="364" rx="0.8" ry="2" fill="#e8b0b0" filter="url(#b05)" transform="rotate(10 177 364)"/>
<ellipse cx="176.5" cy="376" rx="0.8" ry="2" fill="#e8b0b0" filter="url(#b05)"/>
<ellipse cx="180" cy="391" rx="0.9" ry="2" fill="#e8b0b0" filter="url(#b05)" transform="rotate(-35 180 391)"/>
<ellipse cx="198" cy="401.5" rx="2.4" ry="0.8" fill="#e8b0b0" filter="url(#b05)" transform="rotate(10 198 401.5)"/>
<ellipse cx="207" cy="342.5" rx="4" ry="0.9" fill="#d8a0a8" filter="url(#b05)"/>
<ellipse cx="238" cy="343.6" rx="3" ry="0.8" fill="#d8a8a8" filter="url(#b05)" transform="rotate(8 238 343.6)"/>
<ellipse cx="259" cy="350" rx="2.4" ry="0.8" fill="#e8b0b0" filter="url(#b05)" transform="rotate(35 259 350)"/>
<ellipse cx="267" cy="366" rx="0.8" ry="2.4" fill="#e8b0b0" filter="url(#b05)" transform="rotate(-15 267 366)"/>
<ellipse cx="267" cy="388" rx="0.8" ry="2.2" fill="#e8b0b0" filter="url(#b05)" transform="rotate(20 267 388)"/>
<ellipse cx="248" cy="402" rx="2.4" ry="0.8" fill="#e8b0b0" filter="url(#b05)" transform="rotate(-20 248 402)"/>
<ellipse cx="223" cy="387.5" rx="7" ry="7.4" fill="#c46a70" filter="url(#b1)"/>
<ellipse cx="223" cy="385" rx="4.4" ry="3.8" fill="#d85a58" filter="url(#b05)"/>
<ellipse cx="223" cy="391.6" rx="2.2" ry="1.8" fill="#a02c34" filter="url(#b05)"/>
<ellipse cx="219" cy="392" rx="1.4" ry="2.4" fill="#f0d0d4" filter="url(#b05)" transform="rotate(20 219 392)"/>
<ellipse cx="227" cy="392" rx="1.4" ry="2.4" fill="#f0d0d4" filter="url(#b05)" transform="rotate(-20 227 392)"/>
<path d="M222.3 394 L223.9 394 L224.1 401 L222.1 401Z" fill="#e8b8bc" filter="url(#b05)"/>
</g>
<clipPath id="pc6"><rect x="307.7" y="334.2" width="98.4" height="74.2"/></clipPath>
<rect x="307.7" y="334.2" width="98.4" height="74.2" fill="#060304"/>
<g clip-path="url(#pc6)" filter="url(#tex)">
<rect x="311.4" y="337.4" width="92.8" height="65" rx="42" ry="30" fill="#2c1516" filter="url(#b1)"/>
<rect x="315" y="341" width="85.6" height="57.6" rx="39" ry="26.5" fill="#5a282a" filter="url(#b1)"/>
<path d="M328 391 Q358 385 388 391 Q378 400.5 358 401 Q338 400.5 328 391Z" fill="#6a3030" filter="url(#b2)"/>
<path d="M314 370 Q314 352 328 345.5 Q350 342 373 344.5 Q374.5 352 367 359 Q357 364 351.5 373 Q345.5 385 340 394 Q331 398 323 393 Q315 384 314 370Z" fill="#de6a52" filter="url(#b2)"/>
<path d="M319 370 Q319 357 330 351 Q346 348 362 350 Q356 358 348 364 Q342 376 338 386 Q332 392 326 388 Q319 382 319 370Z" fill="#da8a50" filter="url(#b3)" opacity="0.45"/>
<ellipse cx="340" cy="376" rx="5" ry="8" fill="#c89040" filter="url(#b2)" transform="rotate(30 340 376)" opacity="0.5"/>
<ellipse cx="374" cy="358" rx="6" ry="8" fill="#c04848" filter="url(#b2)" transform="rotate(25 374 358)"/>
<ellipse cx="370" cy="367" rx="4" ry="4" fill="#b84040" filter="url(#b2)"/>
<ellipse cx="389.5" cy="354" rx="6.5" ry="8.5" fill="#0c0506" filter="url(#b2)"/>
<ellipse cx="394.4" cy="376.5" rx="4.8" ry="14.5" fill="#c8484e" filter="url(#b2)" transform="rotate(-8 394.4 376.5)"/>
<ellipse cx="380" cy="381" rx="8" ry="11" fill="#4a1416" filter="url(#b2)"/>
<ellipse cx="377.5" cy="383.3" rx="4.1" ry="4.1" fill="#d83a34" filter="url(#b1)"/>
<ellipse cx="386" cy="372" rx="3" ry="5" fill="#7a2226" filter="url(#b1)" transform="rotate(-30 386 372)"/>
<ellipse cx="325" cy="348" rx="2" ry="0.8" fill="#e8b0b0" filter="url(#b05)" transform="rotate(-35 325 348)"/>
<ellipse cx="315.5" cy="362" rx="0.8" ry="2" fill="#e8b0b0" filter="url(#b05)" transform="rotate(10 315.5 362)"/>
<ellipse cx="314.5" cy="374" rx="0.8" ry="2" fill="#e8b0b0" filter="url(#b05)"/>
<ellipse cx="318" cy="388" rx="0.9" ry="2.2" fill="#e8b0b0" filter="url(#b05)" transform="rotate(-40 318 388)"/>
<ellipse cx="334" cy="397.6" rx="2.4" ry="0.8" fill="#e8b0b0" filter="url(#b05)" transform="rotate(10 334 397.6)"/>
<ellipse cx="341" cy="340.3" rx="4" ry="0.9" fill="#d8a0a8" filter="url(#b05)"/>
<ellipse cx="372" cy="341.2" rx="3" ry="0.8" fill="#d8a8a8" filter="url(#b05)" transform="rotate(8 372 341.2)"/>
<ellipse cx="392" cy="346" rx="2.4" ry="0.8" fill="#e8b0b0" filter="url(#b05)" transform="rotate(40 392 346)"/>
<ellipse cx="400.5" cy="362" rx="0.8" ry="2.4" fill="#e8b0b0" filter="url(#b05)" transform="rotate(-12 400.5 362)"/>
<ellipse cx="401" cy="384" rx="0.8" ry="2.2" fill="#e8b0b0" filter="url(#b05)" transform="rotate(15 401 384)"/>
<ellipse cx="383" cy="398" rx="2.4" ry="0.8" fill="#e8b0b0" filter="url(#b05)" transform="rotate(-20 383 398)"/>
<ellipse cx="359.2" cy="383.6" rx="6.2" ry="7" fill="#d88088" filter="url(#b1)"/>
<ellipse cx="359.2" cy="380.6" rx="3.4" ry="2.6" fill="#f0c0c4" filter="url(#b05)"/>
<ellipse cx="359.2" cy="381" rx="1.6" ry="1.2" fill="#c83040" filter="url(#b05)"/>
<ellipse cx="359.2" cy="387.4" rx="2.6" ry="2.2" fill="#f4dce0" filter="url(#b05)"/>
<ellipse cx="359.2" cy="387.6" rx="1.4" ry="1.2" fill="#b02838" filter="url(#b05)"/>
<path d="M358.5 390 L360.1 390 L360.3 397.5 L358.3 397.5Z" fill="#e8b8bc" filter="url(#b05)"/>
<ellipse cx="353.6" cy="390" rx="1.2" ry="2.2" fill="#f0d0d4" filter="url(#b05)" transform="rotate(25 353.6 390)"/>
<ellipse cx="365" cy="390" rx="1.2" ry="2.2" fill="#f0d0d4" filter="url(#b05)" transform="rotate(-25 365 390)"/>
</g>
<text transform="translate(7.00,434.20) scale(1.04,1)" font-size="11" font-weight="bold" fill="#000">C</text>
<path d="M49.3 434.5V552.8" stroke="#111" stroke-width="1.45" fill="none"/>
<path d="M48.599999999999994 552.5H332" stroke="#111" stroke-width="1.6" fill="none"/>
<path d="M45.0 445.20H49.3" stroke="#111" stroke-width="1" fill="none"/>
<text transform="translate(41.80,448.30) scale(0.76,1)" font-size="8.6" text-anchor="end" stroke="#231f20" stroke-width="0.15" fill="#231f20">400</text>
<path d="M45.0 466.70H49.3" stroke="#111" stroke-width="1" fill="none"/>
<text transform="translate(41.80,469.80) scale(0.76,1)" font-size="8.6" text-anchor="end" stroke="#231f20" stroke-width="0.15" fill="#231f20">300</text>
<path d="M45.0 488.20H49.3" stroke="#111" stroke-width="1" fill="none"/>
<text transform="translate(41.80,491.30) scale(0.76,1)" font-size="8.6" text-anchor="end" stroke="#231f20" stroke-width="0.15" fill="#231f20">200</text>
<path d="M45.0 509.70H49.3" stroke="#111" stroke-width="1" fill="none"/>
<text transform="translate(41.80,512.80) scale(0.76,1)" font-size="8.6" text-anchor="end" stroke="#231f20" stroke-width="0.15" fill="#231f20">100</text>
<path d="M45.0 531.20H49.3" stroke="#111" stroke-width="1" fill="none"/>
<text transform="translate(41.80,534.30) scale(0.76,1)" font-size="8.6" text-anchor="end" stroke="#231f20" stroke-width="0.15" fill="#231f20">0</text>
<path d="M45.0 552.70H49.3" stroke="#111" stroke-width="1" fill="none"/>
<text transform="translate(41.80,555.80) scale(0.76,1)" font-size="8.6" text-anchor="end" stroke="#231f20" stroke-width="0.15" fill="#231f20">-100</text>
<path d="M49.3 531.2H332" stroke="#111" stroke-width="1.1" fill="none"/>
<text transform="translate(22.80,493.30) rotate(-90)" font-size="9.4" text-anchor="middle" textLength="102.5" lengthAdjust="spacingAndGlyphs" stroke="#231f20" stroke-width="0.2" fill="#231f20">Perecent change from baseline</text>
<path d="M52.10 531.20H57.50V533.07Q57.50 535.07 54.80 535.07Q52.10 535.07 52.10 533.07Z" fill="#314c86"/>
<rect x="59.30" y="520.45" width="5.4" height="10.75" fill="#ad1236"/>
<path d="M62.00 520.45V514.22M60.70 514.22H63.30" stroke="#111" stroke-width="1.3" fill="none"/>
<path d="M58.40 552.5V555.9" stroke="#111" stroke-width="1" fill="none"/>
<text transform="translate(62.50,561.40) rotate(-45) scale(0.95,1)" font-size="7.9" text-anchor="end" stroke="#231f20" stroke-width="0.18" fill="#231f20">CCL11</text>
<rect x="72.40" y="531.20" width="5.4" height="1.72" fill="#314c86"/>
<path d="M75.10 532.92V540.45M73.80 540.45H76.40" stroke="#111" stroke-width="1.3" fill="none"/>
<path d="M79.60 531.20H85.00V547.90Q85.00 548.40 82.30 548.40Q79.60 548.40 79.60 547.90Z" fill="#ad1236"/>
<path d="M78.70 552.5V555.9" stroke="#111" stroke-width="1" fill="none"/>
<text transform="translate(82.80,561.40) rotate(-45) scale(0.95,1)" font-size="7.9" text-anchor="end" stroke="#231f20" stroke-width="0.18" fill="#231f20">CXCL13</text>
<rect x="92.70" y="530.56" width="5.4" height="0.64" fill="#314c86"/>
<path d="M95.40 530.56V526.47M94.10 526.47H96.70" stroke="#111" stroke-width="1.3" fill="none"/>
<rect x="99.90" y="517.23" width="5.4" height="13.98" fill="#ad1236"/>
<path d="M102.60 517.23V508.41M101.30 508.41H103.90" stroke="#111" stroke-width="1.3" fill="none"/>
<path d="M99.00 552.5V555.9" stroke="#111" stroke-width="1" fill="none"/>
<text transform="translate(103.10,561.40) rotate(-45) scale(0.95,1)" font-size="7.9" text-anchor="end" stroke="#231f20" stroke-width="0.18" fill="#231f20">CXCL5</text>
<path d="M113.00 531.20H118.40V536.73Q118.40 538.73 115.70 538.73Q113.00 538.73 113.00 536.73Z" fill="#314c86"/>
<rect x="120.20" y="524.97" width="5.4" height="6.24" fill="#ad1236"/>
<path d="M122.90 524.97V519.38M121.60 519.38H124.20" stroke="#111" stroke-width="1.3" fill="none"/>
<path d="M119.30 552.5V555.9" stroke="#111" stroke-width="1" fill="none"/>
<text transform="translate(123.40,561.40) rotate(-45) scale(0.95,1)" font-size="7.9" text-anchor="end" stroke="#231f20" stroke-width="0.18" fill="#231f20">G-CSF</text>
<path d="M133.30 531.20H138.70V532.21Q138.70 534.21 136.00 534.21Q133.30 534.21 133.30 532.21Z" fill="#314c86"/>
<path d="M136.00 534.21V540.45M134.70 540.45H137.30" stroke="#111" stroke-width="1.3" fill="none"/>
<path d="M140.50 531.20H145.90V544.87Q145.90 546.47 143.20 546.47Q140.50 546.47 140.50 544.87Z" fill="#ad1236"/>
<path d="M139.60 552.5V555.9" stroke="#111" stroke-width="1" fill="none"/>
<text transform="translate(143.70,561.40) rotate(-45) scale(0.95,1)" font-size="7.9" text-anchor="end" stroke="#231f20" stroke-width="0.18" fill="#231f20">IL-10</text>
<rect x="153.60" y="530.12" width="5.4" height="1.08" fill="#314c86"/>
<path d="M156.30 530.12V524.54M155.00 524.54H157.60" stroke="#111" stroke-width="1.3" fill="none"/>
<path d="M160.80 531.20H166.20V541.00Q166.20 542.60 163.50 542.60Q160.80 542.60 160.80 541.00Z" fill="#ad1236"/>
<path d="M163.50 542.60V544.53M162.20 544.53H164.80" stroke="#111" stroke-width="1.3" fill="none"/>
<path d="M159.90 552.5V555.9" stroke="#111" stroke-width="1" fill="none"/>
<text transform="translate(164.00,561.40) rotate(-45) scale(0.95,1)" font-size="7.9" text-anchor="end" stroke="#231f20" stroke-width="0.18" fill="#231f20">IL-12p40</text>
<path d="M173.90 531.20H179.30V533.07Q179.30 535.07 176.60 535.07Q173.90 535.07 173.90 533.07Z" fill="#314c86"/>
<rect x="181.10" y="497.88" width="5.4" height="33.32" fill="#ad1236"/>
<path d="M183.80 497.88V460.90M182.50 460.90H185.10" stroke="#111" stroke-width="1.3" fill="none"/>
<path d="M180.20 552.5V555.9" stroke="#111" stroke-width="1" fill="none"/>
<text transform="translate(184.30,561.40) rotate(-45) scale(0.95,1)" font-size="7.9" text-anchor="end" stroke="#231f20" stroke-width="0.18" fill="#231f20">IL-12p70</text>
<rect x="194.20" y="527.12" width="5.4" height="4.09" fill="#314c86"/>
<path d="M196.90 527.12V523.03M195.60 523.03H198.20" stroke="#111" stroke-width="1.3" fill="none"/>
<rect x="201.40" y="491.86" width="5.4" height="39.35" fill="#ad1236"/>
<path d="M204.10 491.86V456.81M202.80 456.81H205.40" stroke="#111" stroke-width="1.3" fill="none"/>
<path d="M200.50 552.5V555.9" stroke="#111" stroke-width="1" fill="none"/>
<text transform="translate(204.60,561.40) rotate(-45) scale(0.95,1)" font-size="7.9" text-anchor="end" stroke="#231f20" stroke-width="0.18" fill="#231f20">IL-15</text>
<path d="M214.50 531.20H219.90V535.22Q219.90 537.22 217.20 537.22Q214.50 537.22 214.50 535.22Z" fill="#314c86"/>
<rect x="221.70" y="501.32" width="5.4" height="29.88" fill="#ad1236"/>
<path d="M224.40 501.32V475.73M223.10 475.73H225.70" stroke="#111" stroke-width="1.3" fill="none"/>
<path d="M220.80 552.5V555.9" stroke="#111" stroke-width="1" fill="none"/>
<text transform="translate(224.90,561.40) rotate(-45) scale(0.95,1)" font-size="7.9" text-anchor="end" stroke="#231f20" stroke-width="0.18" fill="#231f20">IL-17α</text>
<path d="M234.80 531.20H240.20V536.08Q240.20 538.08 237.50 538.08Q234.80 538.08 234.80 536.08Z" fill="#314c86"/>
<path d="M237.50 538.08V540.88M236.20 540.88H238.80" stroke="#111" stroke-width="1.3" fill="none"/>
<rect x="242.00" y="509.92" width="5.4" height="21.29" fill="#ad1236"/>
<path d="M244.70 509.92V485.62M243.40 485.62H246.00" stroke="#111" stroke-width="1.3" fill="none"/>
<path d="M241.10 552.5V555.9" stroke="#111" stroke-width="1" fill="none"/>
<text transform="translate(245.20,561.40) rotate(-45) scale(0.95,1)" font-size="7.9" text-anchor="end" stroke="#231f20" stroke-width="0.18" fill="#231f20">IL-6</text>
<path d="M255.10 531.20H260.50V532.00Q260.50 534.00 257.80 534.00Q255.10 534.00 255.10 532.00Z" fill="#314c86"/>
<rect x="262.30" y="513.57" width="5.4" height="17.63" fill="#ad1236"/>
<path d="M265.00 513.57V499.60M263.70 499.60H266.30" stroke="#111" stroke-width="1.3" fill="none"/>
<path d="M261.40 552.5V555.9" stroke="#111" stroke-width="1" fill="none"/>
<text transform="translate(265.50,561.40) rotate(-45) scale(0.95,1)" font-size="7.9" text-anchor="end" stroke="#231f20" stroke-width="0.18" fill="#231f20">IL-8</text>
<path d="M275.40 531.20H280.80V533.93Q280.80 535.93 278.10 535.93Q275.40 535.93 275.40 533.93Z" fill="#314c86"/>
<rect x="282.60" y="518.95" width="5.4" height="12.25" fill="#ad1236"/>
<path d="M285.30 518.95V507.98M284.00 507.98H286.60" stroke="#111" stroke-width="1.3" fill="none"/>
<path d="M281.70 552.5V555.9" stroke="#111" stroke-width="1" fill="none"/>
<text transform="translate(285.80,561.40) rotate(-45) scale(0.95,1)" font-size="7.9" text-anchor="end" stroke="#231f20" stroke-width="0.18" fill="#231f20">IL-9</text>
<path d="M295.70 531.20H301.10V534.36Q301.10 536.36 298.40 536.36Q295.70 536.36 295.70 534.36Z" fill="#314c86"/>
<rect x="302.90" y="483.90" width="5.4" height="47.30" fill="#ad1236"/>
<path d="M305.60 483.90V434.88M304.30 434.88H306.90" stroke="#111" stroke-width="1.3" fill="none"/>
<path d="M302.00 552.5V555.9" stroke="#111" stroke-width="1" fill="none"/>
<text transform="translate(306.10,561.40) rotate(-45) scale(0.95,1)" font-size="7.9" text-anchor="end" stroke="#231f20" stroke-width="0.18" fill="#231f20">TNFβ</text>
<path d="M316.00 531.20H321.40V536.08Q321.40 538.08 318.70 538.08Q316.00 538.08 316.00 536.08Z" fill="#314c86"/>
<path d="M318.70 538.08V539.59M317.40 539.59H320.00" stroke="#111" stroke-width="1.3" fill="none"/>
<rect x="323.20" y="471.86" width="5.4" height="59.34" fill="#ad1236"/>
<path d="M325.90 471.86V436.60M324.60 436.60H327.20" stroke="#111" stroke-width="1.3" fill="none"/>
<path d="M322.30 552.5V555.9" stroke="#111" stroke-width="1" fill="none"/>
<text transform="translate(326.40,561.40) rotate(-45) scale(0.95,1)" font-size="7.9" text-anchor="end" stroke="#231f20" stroke-width="0.18" fill="#231f20">sCD40L</text>
<path d="M52.2 505.2H63.2" stroke="#111" stroke-width="1.3" fill="none"/>
<text transform="translate(57.70,505.40) scale(0.95,1)" font-size="8" text-anchor="middle" stroke="#231f20" stroke-width="0.4" fill="#231f20">*</text>
<path d="M72.3 505.2H83.3" stroke="#111" stroke-width="1.3" fill="none"/>
<text transform="translate(77.80,505.40) scale(0.95,1)" font-size="8" text-anchor="middle" stroke="#231f20" stroke-width="0.4" fill="#231f20">*</text>
<path d="M154.6 504.6H166" stroke="#111" stroke-width="1.3" fill="none"/>
<text transform="translate(160.30,504.80) scale(0.95,1)" font-size="8" text-anchor="middle" stroke="#231f20" stroke-width="0.4" fill="#231f20">*</text>
<path d="M214.6 471H226" stroke="#111" stroke-width="1.3" fill="none"/>
<text transform="translate(220.30,471.20) scale(0.95,1)" font-size="8" text-anchor="middle" stroke="#231f20" stroke-width="0.4" fill="#231f20">**</text>
<path d="M316 447H325.6" stroke="#111" stroke-width="1.3" fill="none"/>
<text transform="translate(320.80,447.20) scale(0.95,1)" font-size="8" text-anchor="middle" stroke="#231f20" stroke-width="0.4" fill="#231f20">*</text>
<rect x="346.5" y="435" width="12" height="6" fill="#314c86"/>
<rect x="346.5" y="446.5" width="12" height="6" fill="#ad1236"/>
<text transform="translate(361.80,441.00)" font-size="7.8" textLength="29.3" lengthAdjust="spacingAndGlyphs" stroke="#231f20" stroke-width="0.2" fill="#231f20">PD (n=9)</text>
<text transform="translate(361.80,452.40)" font-size="7.8" textLength="45" lengthAdjust="spacingAndGlyphs" stroke="#231f20" stroke-width="0.2" fill="#231f20">PR/CR (n=10)</text>
<path d="M0.5 0V592" stroke="#000" stroke-width="1.1" fill="none"/>
<path d="M0 0.6H520" stroke="#000" stroke-width="1.3" fill="none"/>
<path d="M519.2 0V592" stroke="#000" stroke-width="1.7" fill="none"/>
<path d="M0 591.2H520" stroke="#000" stroke-width="1.6" fill="none"/>
</svg></body></html>
